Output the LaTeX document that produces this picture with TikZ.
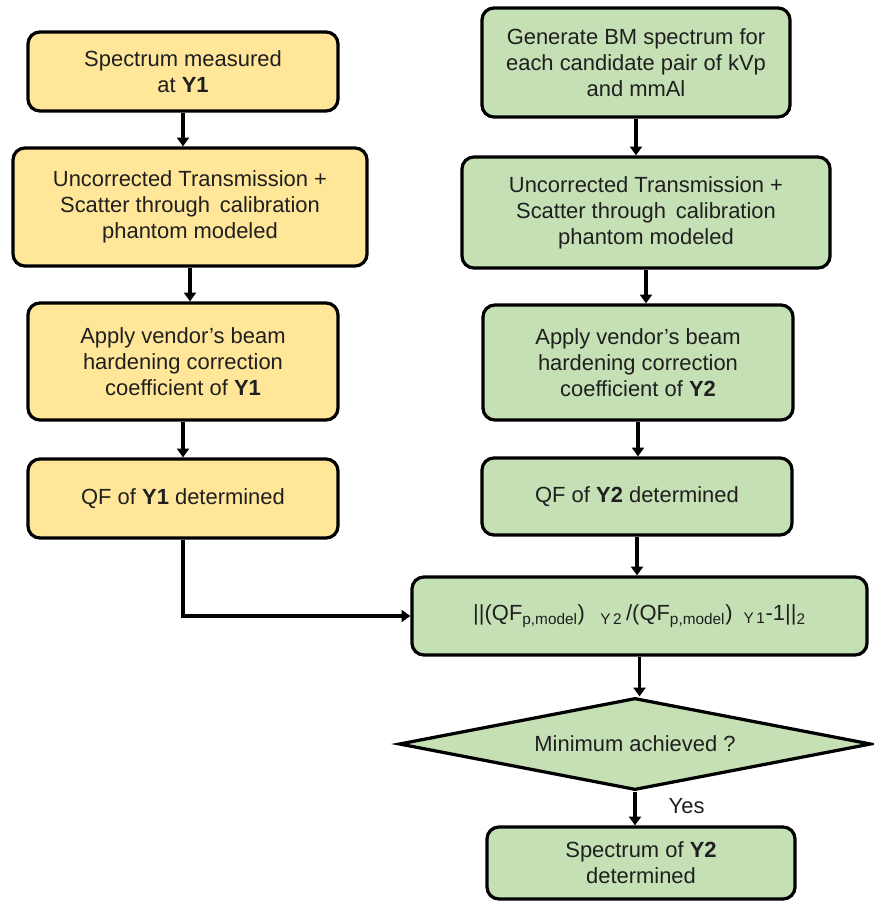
\documentclass[tikz,border=0pt]{standalone}
\usepackage{fontspec}
\setmainfont{Liberation Sans}
\usetikzlibrary{arrows.meta,positioning,shapes.geometric}
\definecolor{Ink}{HTML}{1F1F1F}
\definecolor{Gold}{HTML}{FFE699}
\definecolor{Sage}{HTML}{C5E0B4}
\tikzset{>=Latex,
 every node/.style={font=\fontsize{15.6}{18.5}\selectfont,text=Ink},
 arr/.style={-{Triangle[length=2.2mm,width=3mm]},line width=2.3pt,draw=black},
 box/.style={draw=black,line width=2.3pt,rounded corners=0.3cm,align=center,inner sep=2pt},
 ybox/.style={box,fill=Gold},
 gbox/.style={box,fill=Sage},
 decide/.style={diamond,aspect=5.17,draw=black,line width=2.3pt,fill=Sage,inner sep=0pt},
 tag/.style={inner sep=1pt},
 }
\begin{document}
\begin{tikzpicture}[x=0.025cm,y=-0.025cm]
 \useasboundingbox(0,0)rectangle(874,901);
 % measured spectrum, Y1
 \node[ybox,minimum width=7.75cm,minimum height=1.975cm](meas)at(183,71.5){Spectrum measured\\at \textbf{Y1}};
 \node[ybox,minimum width=8.85cm,minimum height=2.95cm](transA)at(190,207){Uncorrected Transmission +\\Scatter through\, calibration\\phantom modeled};
 \node[ybox,minimum width=7.75cm,minimum height=2.925cm](bhcA)at(183,361.5){Apply vendor's beam\\hardening correction\\coefficient of \textbf{Y1}};
 \node[ybox,minimum width=7.75cm,minimum height=1.975cm](qfA)at(183,498.5){QF of \textbf{Y1} determined};
 % modelled spectrum, Y2
 \node[gbox,minimum width=7.7cm,minimum height=2.725cm](gen)at(636,62.5){Generate BM spectrum for\\each candidate pair of kVp\\and mmAl};
 \node[gbox,minimum width=9.2cm,minimum height=2.775cm](transB)at(646,212.5){Uncorrected Transmission +\\Scatter through\, calibration\\phantom modeled};
 \node[gbox,minimum width=7.75cm,minimum height=2.875cm](bhcB)at(638,362.5){Apply vendor's beam\\hardening correction\\coefficient of \textbf{Y2}};
 \node[gbox,minimum width=7.75cm,minimum height=1.925cm](qfB)at(637,496.5){QF of \textbf{Y2} determined};
 \node[gbox,minimum width=11.375cm,minimum height=1.95cm](norm)at(639.5,616){%
 ||(QF\textsubscript{p,model})\hspace{0.7em}\textsubscript{Y\,2}\,/(QF\textsubscript{p,model})\hspace{0.5em}\textsubscript{Y\,1}-1||\textsubscript{2}};
 \node[decide,minimum width=11.8cm,minimum height=2.3cm](mini)at(635,744){Minimum achieved ?};
 \node[gbox,minimum width=7.7cm,minimum height=1.8cm](spec)at(641,863){Spectrum of \textbf{Y2}\\determined};
 % connectors
 \foreach \a/\b in {meas/transA,transA/bhcA,bhcA/qfA,gen/transB,transB/bhcB,bhcB/qfB,qfB/norm,norm/mini,mini/spec}
 \draw[arr](\a.south)--(\a.south |- \b.north);
 \draw[arr](qfA.south)|-(norm.west);
 \node[tag,anchor=west]at(667,806){Yes};
\end{tikzpicture}
\end{document}
